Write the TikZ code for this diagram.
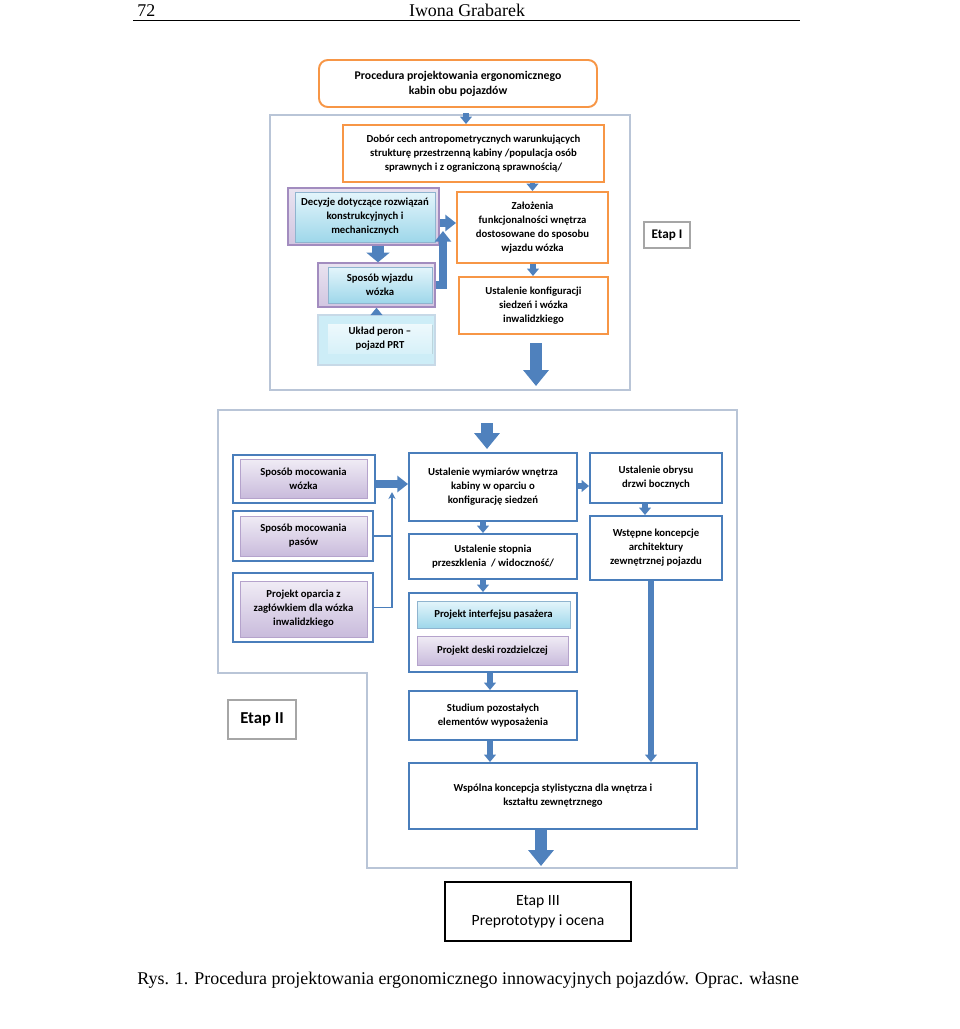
\documentclass[tikz,border=0pt]{standalone}
\usepackage{fontspec}
\setmainfont{Liberation Serif}
\newfontfamily\boxfont{Carlito}
\usetikzlibrary{arrows.meta,positioning,shadows}

\definecolor{orangeB}{HTML}{F79646}
\definecolor{arrB}{HTML}{4F81BD}
\definecolor{boxB}{HTML}{4A7EBB}
\definecolor{frameC}{HTML}{B9C5D7}
\definecolor{purpB}{HTML}{A28CBF}
\definecolor{purpT}{HTML}{F0ECF5}
\definecolor{purpD}{HTML}{C9BBDC}
\definecolor{purpL}{HTML}{E9E3F0}
\definecolor{purpM}{HTML}{D2C6E1}
\definecolor{cyanT}{HTML}{E4F5FB}
\definecolor{cyanD}{HTML}{9ED7EA}
\definecolor{cyanB}{HTML}{8FB4CF}
\definecolor{cyanL}{HTML}{CDEDF7}

\tikzset{
    boxsize/.style 2 args={minimum width=#1*0.02cm, minimum height=#2*0.02cm, inner sep=0pt},
    txt/.style={font=\boxfont\bfseries\fontsize{6.1}{8}\selectfont, align=center},
    obox/.style={txt, draw=orangeB, line width=1.1pt, fill=white},
    bbox/.style={txt, draw=boxB, line width=1.1pt, fill=white},
    outerP/.style={draw=purpB, line width=0.8pt, top color=purpL, bottom color=purpM},
    outerC/.style={draw=cyanB!50, line width=0.6pt, fill=cyanL},
    innerC/.style={txt, draw=cyanB, line width=0.4pt, top color=cyanT, bottom color=cyanD,
        drop shadow={opacity=0.25, shadow xshift=0.6pt, shadow yshift=-0.6pt}},
    innerP/.style={txt, draw=purpB!80, line width=0.4pt, top color=purpT, bottom color=purpD,
        drop shadow={opacity=0.25, shadow xshift=0.6pt, shadow yshift=-0.6pt}},
    innerL/.style={txt, draw=none, top color=cyanL!35!white, bottom color=cyanL!80!white,
        drop shadow={opacity=0.25, shadow xshift=0.6pt, shadow yshift=-0.6pt}},
    gbox/.style={txt, draw=gray!70, line width=0.6pt, fill=white},
    blkL/.style={draw=arrB, line width=7.2pt, -{Triangle[length=9pt,width=14pt]}},
    blkW/.style={draw=arrB, line width=6.8pt, -{Triangle[length=5.5pt,width=13pt]}},
    blkM/.style={draw=arrB, line width=4.4pt, -{Triangle[length=6pt,width=9pt]}},
    blkS/.style={draw=arrB, line width=3pt, -{Triangle[length=4.2pt,width=6.6pt]}},
    conn/.style={draw=boxB, line width=1.1pt, -{Stealth[length=4pt,width=4pt]}},
    serif/.style={font=\fontsize{10.2}{12}\selectfont, inner sep=0pt},
}

\begin{document}
\begin{tikzpicture}[x=0.02cm, y=-0.02cm, >=Stealth]
    \useasboundingbox (0,0) rectangle (960,1029);

    % the page header
    \node[serif, anchor=base west] (pagenum) at (137,16) {72};
    \node[serif, anchor=base] (author) at (467,16) {Iwona Grabarek};
    \draw[line width=0.7pt] (133,20.5) -- (800,20.5);

    % the title box on top
    \node[obox, rounded corners=5pt, boxsize={278}{47},
        font=\boxfont\bfseries\fontsize{6.7}{8.6}\selectfont] (title) at (458,83.5)
        {Procedura projektowania ergonomicznego\\kabin obu pojazdów};

    % the frame of Etap I
    \draw[frameC, line width=0.8pt] (270,115) rectangle (630,390);

    % the boxes of Etap I
    \node[obox, boxsize={261}{57}] (dobor) at (473.5,153.5)
        {Dobór cech antropometrycznych warunkujących\\strukturę przestrzenną kabiny /populacja osób\\sprawnych i z ograniczoną sprawnością/};
    \node[outerP, boxsize={151}{57}] (decyzjeOut) at (363.5,216.5) {};
    \node[innerC, boxsize={140}{50}] (decyzje) at (365,217)
        {Decyzje dotyczące rozwiązań\\konstrukcyjnych i\\mechanicznych};
    \node[obox, boxsize={151}{71}] (zalozenia) at (532.5,227.5)
        {Założenia\\funkcjonalności wnętrza\\dostosowane do sposobu\\wjazdu wózka};
    \node[outerP, boxsize={117}{44}] (wjazdOut) at (376.5,285) {};
    \node[innerC, boxsize={104}{36}] (wjazd) at (380,285) {Sposób wjazdu\\wózka};
    \node[outerC, boxsize={117}{50}] (ukladOut) at (376.5,340) {};
    \node[innerL, boxsize={104}{29}] (uklad) at (380,338.5) {Układ peron –\\pojazd PRT};
    \node[obox, boxsize={149}{57}] (konfig) at (533.5,305.5)
        {Ustalenie konfiguracji\\siedzeń i wózka\\inwalidzkiego};
    \node[gbox, boxsize={46}{26}, font=\boxfont\bfseries\fontsize{7.5}{9}\selectfont] (etap1) at (667,235) {Etap I};

    % the arrows of Etap I
    \draw[blkS] (466,113 |- 0,113) -- (466,0 |- dobor.north);
    \draw[blkS] (zalozenia.north |- dobor.south) -- (zalozenia.north);
    \draw[blkM] (decyzjeOut.east |- 0,223) -- (zalozenia.west |- 0,223);
    \draw[blkW] (378,0 |- decyzjeOut.south) -- (378,0 |- wjazdOut.north);
    \coordinate (merge) at (443,231);
    \draw[blkM, line join=miter] (wjazdOut.east) -| (merge);
    \draw[blkS] (ukladOut.north) -- (ukladOut.north |- wjazdOut.south);
    \draw[blkS] (533,0 |- zalozenia.south) -- (533,0 |- konfig.north);
    \coordinate (out1a) at (536,343);
    \coordinate (out1b) at (536,386);
    \draw[blkL] (out1a) -- (out1b);

    % the frame of Etap II
    \draw[frameC, line width=0.8pt] (218,410) -- (737,410) -- (737,868) -- (367,868)
        -- (367,673) -- (218,673) -- cycle;
    \coordinate (in2a) at (487,423);
    \coordinate (in2b) at (487,449);
    \draw[blkL] (in2a) -- (in2b);

    % the left column of Etap II
    \node[bbox, boxsize={142}{48}] (smwOut) at (304,479) {};
    \node[innerP, boxsize={127}{39}] (smw) at (303.5,478.5) {Sposób mocowania\\wózka};
    \node[bbox, boxsize={140}{50}] (smpOut) at (303,536) {};
    \node[innerP, boxsize={127}{40}] (smp) at (303.5,536) {Sposób mocowania\\pasów};
    \node[bbox, boxsize={140}{69}] (opaOut) at (303,607.5) {};
    \node[innerP, boxsize={127}{56}] (opa) at (303.5,609)
        {Projekt oparcia z\\zagłówkiem dla wózka\\inwalidzkiego};

    % the middle column of Etap II
    \node[bbox, boxsize={168}{68}] (wym) at (493,487)
        {Ustalenie wymiarów wnętrza\\kabiny w oparciu o\\konfigurację siedzeń};
    \node[bbox, boxsize={168}{45}] (stop) at (493,556.5)
        {Ustalenie stopnia\\przeszklenia~~/ widoczność/};
    \node[bbox, boxsize={168}{79}] (grp) at (493,632.5) {};
    \node[innerC, boxsize={153}{27}] (pint) at (493.5,614.5) {Projekt interfejsu pasażera};
    \node[innerP, boxsize={151}{29}] (pdes) at (492.5,650.5) {Projekt deski rozdzielczej};
    \node[bbox, boxsize={168}{49}] (stud) at (493,715.5)
        {Studium pozostałych\\elementów wyposażenia};

    % the right column of Etap II
    \node[bbox, boxsize={132}{50}] (obr) at (656,478) {Ustalenie obrysu\\drzwi bocznych};
    \node[bbox, boxsize={132}{64}] (wst) at (656,548)
        {Wstępne koncepcje\\architektury\\zewnętrznej pojazdu};

    % the common box and the labels
    \node[bbox, boxsize={288}{66}] (wsp) at (553,796)
        {Wspólna koncepcja stylistyczna dla wnętrza i\\kształtu zewnętrznego};
    \node[gbox, boxsize={68}{39}, font=\boxfont\bfseries\fontsize{9.5}{11}\selectfont] (etap2) at (262,719.5) {Etap II};
    \node[draw=black, line width=1pt, fill=white, boxsize={186}{59}, align=center,
        font=\boxfont\fontsize{8.9}{11.5}\selectfont] (etap3) at (538,911.5)
        {Etap III\\Preprototypy i ocena};

    % the arrows of Etap II
    \draw[blkM] (smwOut.east |- 0,484) -- (wym.west |- 0,484);
    \draw[blkS] (wym.east |- 0,486) -- (obr.west |- 0,486);
    \draw[blkS] (483,0 |- wym.south) -- (483,0 |- stop.north);
    \draw[blkS] (483,0 |- stop.south) -- (483,0 |- grp.north);
    \draw[blkS] (490,0 |- grp.south) -- (490,0 |- stud.north);
    \draw[blkS] (490,0 |- stud.south) -- (490,0 |- wsp.north);
    \draw[blkS] (645,0 |- obr.south) -- (645,0 |- wst.north);
    \draw[blkS] (651,0 |- wst.south) -- (651,0 |- wsp.north);
    \coordinate (out2b) at (541,866);
    \draw[blkL] (541,0 |- wsp.south) -- (out2b);

    % the thin lines from the left column
    \coordinate (join) at (392,492);
    \draw[conn] (opaOut.east) -| (join);
    \draw[boxB, line width=1.1pt] (smpOut.east) -- (smpOut.east -| join);

    % the caption
    \node[serif, anchor=base west] (caption) at (137,984)
        {Rys. 1. Procedura projektowania ergonomicznego innowacyjnych pojazdów. Oprac. własne};
\end{tikzpicture}
\end{document}
